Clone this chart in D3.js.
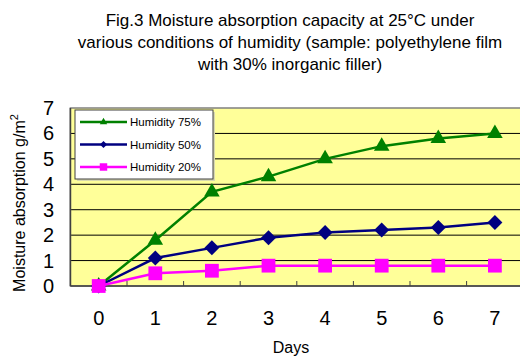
<!DOCTYPE html>
<html>
<head>
<meta charset="utf-8">
<style type="text/css">
    body { margin: 0; background: #fff; }
    text { font-family: "Liberation Sans", Arial, sans-serif; fill: #000; }
    .grid line { stroke: #000; stroke-width: 1; }
</style>
</head>
<body>
<svg id="chart" width="520" height="358"></svg>
<script src="https://d3js.org/d3.v7.min.js"></script>
<script type="text/javascript">
var days = [0, 1, 2, 3, 4, 5, 6, 7];
var yTicks = [0, 1, 2, 3, 4, 5, 6, 7];
var seriesNames = ["Humidity 75%", "Humidity 50%", "Humidity 20%"];
var hum75 = [0, 1.8, 3.7, 4.3, 5.0, 5.5, 5.8, 6.0];
var hum50 = [0, 1.1, 1.5, 1.9, 2.1, 2.2, 2.3, 2.5];
var hum20 = [0, 0.5, 0.6, 0.8, 0.8, 0.8, 0.8, 0.8];
var titleLines = [
    "Fig.3 Moisture absorption capacity at 25°C under",
    "various conditions of humidity (sample: polyethylene film",
    "with 30% inorganic filler)"
];

// wide diamond like the spreadsheet marker (square turned 45deg)
var wideDiamond = {
    draw: function(ctx, size) {
        var r = Math.sqrt(size / 2);
        ctx.moveTo(0, -r);
        ctx.lineTo(r, 0);
        ctx.lineTo(0, r);
        ctx.lineTo(-r, 0);
        ctx.closePath();
    }
};

var series = [
    { name: seriesNames[0], values: hum75, color: "#008000", shape: d3.symbolTriangle, size: 105, lsize: 24 },
    { name: seriesNames[1], values: hum50, color: "#000080", shape: wideDiamond, size: 112, lsize: 26 },
    { name: seriesNames[2], values: hum20, color: "#ff00ff", shape: d3.symbolSquare, size: 190, lsize: 56 }
];

var svg = d3.select("#chart");
var pL = 70.4, pR = 523.2, pT = 108, pB = 286;

var x = d3.scaleBand().domain(days).range([pL, pR]);
var y = d3.scaleLinear().domain([0, 7]).range([pB, pT]);

// title
svg.append("g").selectAll("text")
    .data(titleLines).enter().append("text")
    .attr("x", 290).attr("y", function(d, i) { return 26 + i * 22; })
    .attr("text-anchor", "middle")
    .style("font-size", "17px")
    .text(function(d) { return d; });

// plot background
svg.append("rect")
    .attr("x", pL).attr("y", pT)
    .attr("width", pR - pL).attr("height", pB - pT)
    .attr("fill", "#ffff99");

// grid
svg.append("g").attr("class", "grid")
    .selectAll("line").data(yTicks.slice(1, 7)).enter().append("line")
    .attr("x1", pL).attr("x2", pR)
    .attr("y1", function(d) { return y(d); })
    .attr("y2", function(d) { return y(d); });

// border
svg.append("rect")
    .attr("x", pL).attr("y", pT)
    .attr("width", pR - pL).attr("height", pB - pT)
    .attr("fill", "none").attr("stroke", "#808080").attr("stroke-width", 1.5);

// x axis
var xAxis = svg.append("g")
    .attr("transform", "translate(0," + pB + ")");
xAxis.append("line")
    .attr("x1", pL).attr("x2", pR)
    .attr("stroke", "#404040").attr("stroke-width", 1.5);
xAxis.selectAll("line.tk").data(days.slice(1)).enter().append("line")
    .attr("class", "tk")
    .attr("x1", function(d) { return x(d); })
    .attr("x2", function(d) { return x(d); })
    .attr("y1", 0).attr("y2", -5)
    .attr("stroke", "#404040");
xAxis.selectAll("text").data(days).enter().append("text")
    .attr("x", function(d) { return x(d) + x.bandwidth() / 2; })
    .attr("y", 39)
    .attr("text-anchor", "middle")
    .style("font-size", "20px")
    .text(function(d) { return d; });

// y axis
var yAxis = svg.append("g");
yAxis.append("line")
    .attr("x1", pL).attr("x2", pL)
    .attr("y1", pT).attr("y2", pB)
    .attr("stroke", "#404040").attr("stroke-width", 1.5);
yAxis.selectAll("text").data(yTicks).enter().append("text")
    .attr("x", 54)
    .attr("y", function(d) { return y(d) + 7; })
    .attr("text-anchor", "end")
    .style("font-size", "20px")
    .text(function(d) { return d; });

// axis titles
svg.append("text")
    .attr("x", 291).attr("y", 353)
    .attr("text-anchor", "middle")
    .style("font-size", "16px")
    .text("Days");
var yt = svg.append("text")
    .attr("transform", "translate(25,203) rotate(-90)")
    .attr("text-anchor", "middle")
    .style("font-size", "16px");
yt.append("tspan").text("Moisture absorption g/m");
yt.append("tspan").attr("dy", -7).style("font-size", "11px").text("2");

// lines and markers
var line = d3.line()
    .x(function(d, i) { return x(days[i]) + x.bandwidth() / 2; })
    .y(function(d) { return y(d); });

series.forEach(function(s) {
    svg.append("path")
        .attr("d", line(s.values))
        .attr("fill", "none")
        .attr("stroke", s.color)
        .attr("stroke-width", 2.5);
    svg.append("g").selectAll("path")
        .data(s.values).enter().append("path")
        .attr("transform", function(d, i) {
            return "translate(" + (x(days[i]) + x.bandwidth() / 2) + "," + y(d) + ")";
        })
        .attr("d", d3.symbol().type(s.shape).size(s.size))
        .attr("fill", s.color);
});

// legend
var legend = svg.append("g");
legend.append("rect")
    .attr("x", 77).attr("y", 112)
    .attr("width", 138).attr("height", 69)
    .attr("fill", "#d8d8b0");
legend.append("rect")
    .attr("x", 75).attr("y", 110)
    .attr("width", 138).attr("height", 69)
    .attr("fill", "#fff").attr("stroke", "#404040").attr("stroke-width", 1);
var item = legend.selectAll("g.item").data(series).enter().append("g")
    .attr("class", "item")
    .attr("transform", function(d, i) { return "translate(0," + (122 + i * 22.5) + ")"; });
item.append("line")
    .attr("x1", 80).attr("x2", 127)
    .attr("stroke", function(d) { return d.color; })
    .attr("stroke-width", 2.5);
item.append("path")
    .attr("transform", "translate(103.5,0)")
    .attr("d", function(d) { return d3.symbol().type(d.shape).size(d.lsize)(); })
    .attr("fill", function(d) { return d.color; });
item.append("text")
    .attr("x", 130).attr("y", 4)
    .style("font-size", "11.5px")
    .text(function(d) { return d.name; });
</script>
</body>
</html>
